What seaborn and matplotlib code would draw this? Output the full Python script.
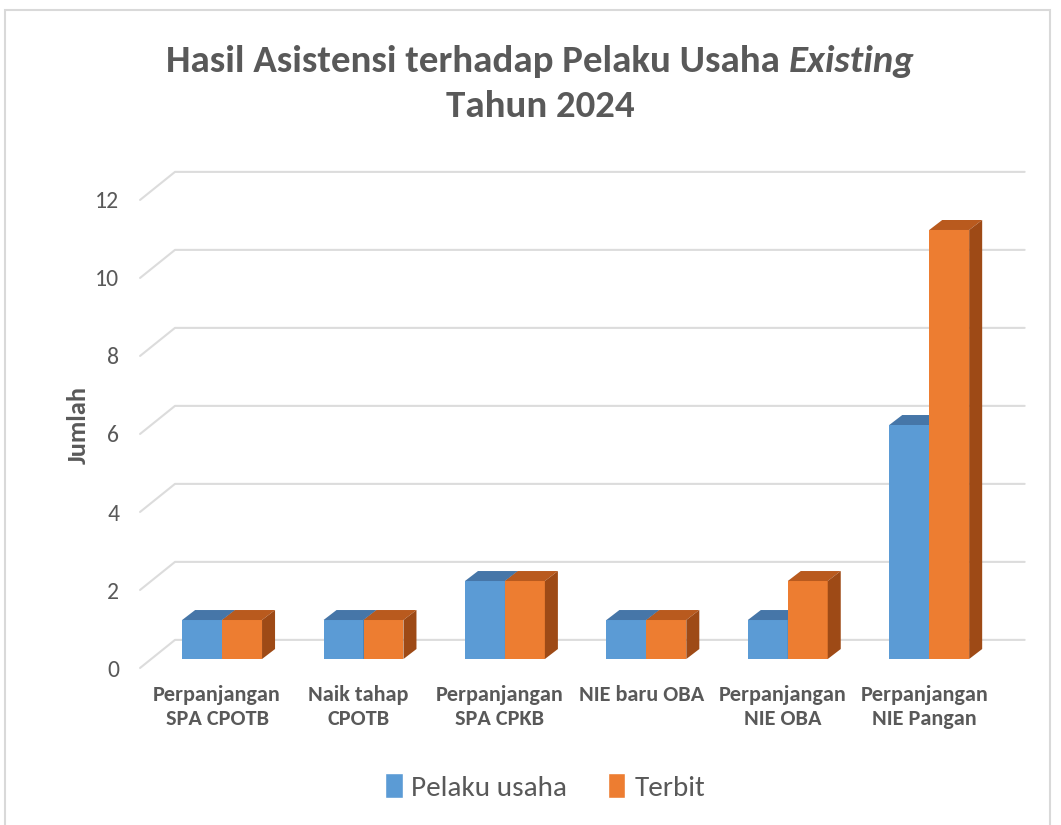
import pandas as pd
import matplotlib.pyplot as plt
import seaborn as sns
from matplotlib import font_manager
from matplotlib.patches import Polygon, Patch, Rectangle
from matplotlib.transforms import ScaledTranslation

# --------------------
# DATA
# --------------------
categories = [
    "Perpanjangan\nSPA CPOTB",
    "Naik tahap\nCPOTB",
    "Perpanjangan\nSPA CPKB",
    "NIE baru OBA",
    "Perpanjangan\nNIE OBA",
    "Perpanjangan\nNIE Pangan",
]
pelaku_usaha = [1, 1, 2, 1, 1, 6]
terbit = [1, 1, 2, 1, 2, 11]
series_names = ["Pelaku usaha", "Terbit"]
y_ticks = [0, 2, 4, 6, 8, 10, 12]

df = pd.DataFrame({
    "kategori": categories * 2,
    "seri": [series_names[0]] * len(categories) + [series_names[1]] * len(categories),
    "jumlah": pelaku_usaha + terbit,
})

# --------------------
# STYLE
# --------------------
sns.set_style("white")
installed = {f.name for f in font_manager.fontManager.ttflist}
font = next(f for f in ["Carlito", "Liberation Sans Narrow", "Lato", "DejaVu Sans"] if f in installed)
plt.rcParams["font.family"] = [font, "DejaVu Sans"]

grey = "#595959"
front_colors = ["#5B9BD5", "#ED7D31"]
top_colors = ["#4676A8", "#B95A1E"]
side_colors = ["#3F6B97", "#9E4A16"]

fig = plt.figure(figsize=(10.61, 8.25), dpi=100)
ax = fig.add_axes([0.132, 0.2012, 0.8011, 0.5673])

sns.barplot(data=df, x="kategori", y="jumlah", hue="seri", hue_order=series_names,
            palette=front_colors, width=0.565, saturation=1, legend=False, ax=ax)

ax.set_xlim(-0.58, 5.43)
ax.set_ylim(0, 12)
sns.despine(ax=ax, left=True, bottom=True)

# 3D look: depth of the bars and of the back wall (data units)
bar_dx, bar_dy = 0.092, 0.256
wall_front_dy = -0.23
wall_dx, wall_dy = 0.247, 0.49
x_left = -0.58
x_right = 5.675

for v in y_ticks:
    ax.plot([x_left, x_left + wall_dx, x_right],
            [v + wall_front_dy, v + wall_dy, v + wall_dy],
            color="#DCDCDC", lw=1.5, clip_on=False, zorder=1)

n = len(categories)
bars = list(ax.patches)
for i, bar in enumerate(bars):
    s = i // n
    bar.set_zorder(3 + s)
    bar.set_edgecolor("none")
    x0 = bar.get_x()
    x1 = x0 + bar.get_width()
    h = bar.get_height()
    top = Polygon([(x0, h), (x1, h), (x1 + bar_dx, h + bar_dy), (x0 + bar_dx, h + bar_dy)],
                  closed=True, facecolor=top_colors[s], edgecolor="none", zorder=3 + s, clip_on=False)
    side = Polygon([(x1, 0), (x1 + bar_dx, bar_dy), (x1 + bar_dx, h + bar_dy), (x1, h)],
                   closed=True, facecolor=side_colors[s], edgecolor="none", zorder=3 + s, clip_on=False)
    ax.add_patch(top)
    ax.add_patch(side)

# axes text
ax.set_yticks(y_ticks)
ax.tick_params(axis="y", length=0, pad=15, labelsize=17, labelcolor=grey)
ax.tick_params(axis="x", length=0, pad=19, labelsize=16, labelcolor=grey)
for lab in ax.get_yticklabels():
    lab.set_transform(lab.get_transform() + ScaledTranslation(0, -9 / 100, fig.dpi_scale_trans))
for lab in ax.get_xticklabels():
    lab.set_fontweight("bold")
    lab.set_multialignment("center")
    lab.set_transform(lab.get_transform() + ScaledTranslation(-5 / 100, 0, fig.dpi_scale_trans))
ax.set_xlabel("")
ax.set_ylabel("Jumlah", fontsize=19, fontweight="bold", color=grey, labelpad=4)
ax.grid(False)

# title: second half of the first line is italic
t1 = fig.text(0.5, 0.925, "Hasil Asistensi terhadap Pelaku Usaha ", fontsize=28,
              fontweight="bold", color=grey, ha="left", va="center")
t2 = fig.text(0.5, 0.925, "Existing", fontsize=28, fontweight="bold", style="italic",
              color=grey, ha="left", va="center")
fig.canvas.draw()
r = fig.canvas.get_renderer()
w1 = t1.get_window_extent(r).width
w2 = t2.get_window_extent(r).width
start = 540 - (w1 + w2) / 2
t1.set_x(start / 1061)
t2.set_x((start + w1) / 1061)
fig.text(540 / 1061, 0.871, "Tahun 2024", fontsize=28, fontweight="bold", color=grey,
         ha="center", va="center")

handles = [Patch(facecolor=c, label=lbl) for c, lbl in zip(front_colors, series_names)]
fig.legend(handles=handles, loc="center", bbox_to_anchor=(545 / 1061, 1 - 787 / 825),
           ncol=2, frameon=False, fontsize=21, labelcolor=grey, handlelength=0.6,
           handleheight=0.9, handletextpad=0.3, columnspacing=1.4)

fig.patches.append(Rectangle((5 / 1061, -0.05), 1045 / 1061, 1.05 - 10 / 825,
                             transform=fig.transFigure, fill=False, edgecolor="#D9D9D9", lw=1.5))

plt.savefig("out.png", dpi=100)
plt.close()
